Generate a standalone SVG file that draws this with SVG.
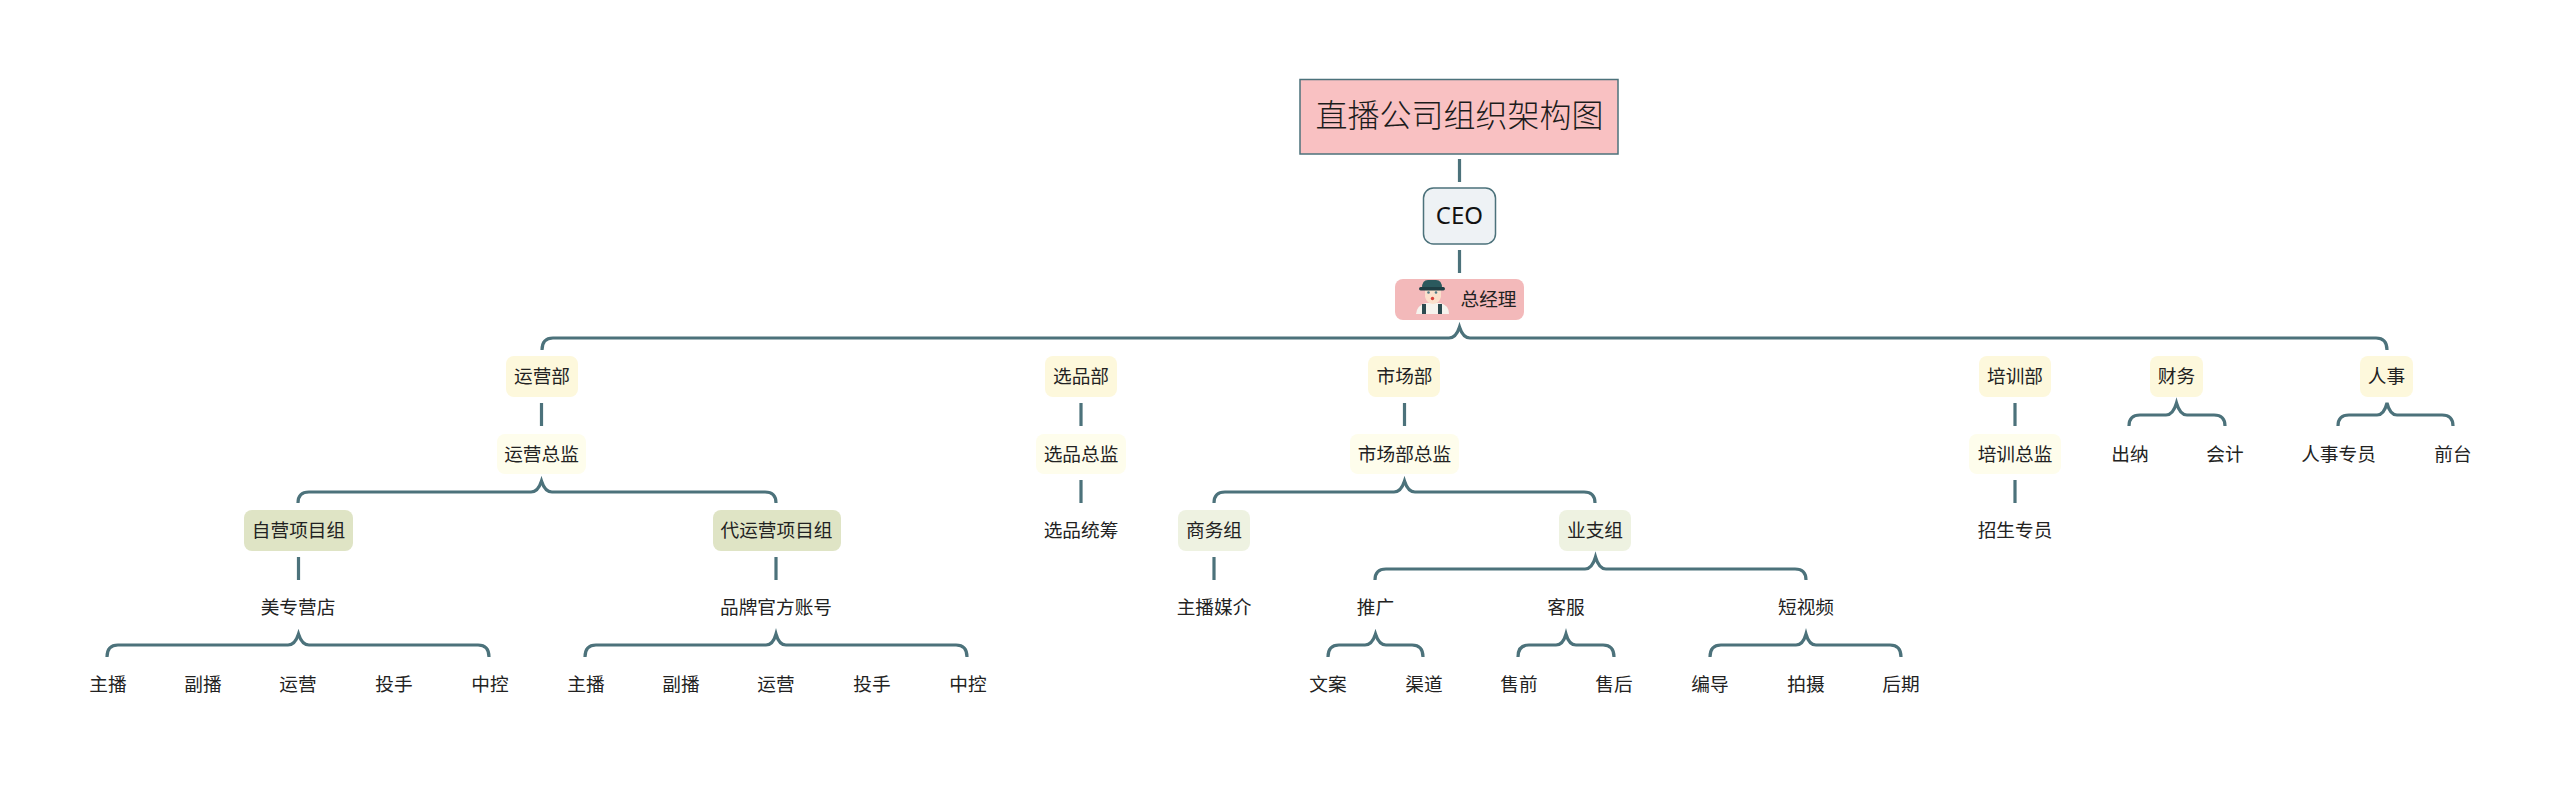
<svg xmlns="http://www.w3.org/2000/svg" width="2560" height="785" viewBox="0 0 2560 785">
<style>
text{font-family:"Noto Sans","Noto Sans CJK SC",sans-serif;font-size:18.67px;fill:#222;text-anchor:middle}
.c{fill:none;stroke:#4c727b;stroke-width:3.200;stroke-linecap:butt}
.y{fill:#fdf8dc}.l{fill:#fefdec}.g{fill:#dfe4c5}.p{fill:#eef2e1}
</style>
<rect width="2560" height="785" fill="#fff"/>
<g id="connectors" class="c">
<path d="M1459.500 159V182M1459.500 250V273M541.500 403V426M1081 403V426M1081 480V503M1404.500 403V426M2015 403V426M2015 480V503M298.500 557V580M776 557V580M1214 557V580"/>
<path d="M542 350Q542 338 553 338H1449Q1456 338 1459.500 327Q1463 338 1470 338H2376Q2387 338 2387 350"/>
<path d="M298 503Q298 492 309 492H531Q538 492 541.500 481Q545 492 552 492H765Q776 492 776 503"/>
<path d="M107 657Q107 645 118 645H288Q295 645 298.500 634Q302 645 309 645H478Q489 645 489 657"/>
<path d="M585 657Q585 645 596 645H766Q773 645 776 634Q779 645 786 645H956Q967 645 967 657"/>
<path d="M1214 503Q1214 492 1225 492H1394Q1401 492 1404.500 481Q1408 492 1415 492H1584Q1595 492 1595 503"/>
<path d="M1375 580Q1375 569 1386 569H1585Q1592 569 1595.500 557Q1599 569 1606 569H1795Q1806 569 1806 580"/>
<path d="M1328 657Q1328 645 1339 645H1365Q1372 645 1375.500 634Q1379 645 1386 645H1412Q1423 645 1423 657"/>
<path d="M1518 657Q1518 645 1529 645H1556Q1563 645 1566 634Q1569 645 1576 645H1603Q1614 645 1614 657"/>
<path d="M1710 657Q1710 645 1721 645H1796Q1803 645 1806 634Q1809 645 1816 645H1890Q1901 645 1901 657"/>
<path d="M2129 426Q2129 415 2140 415H2166Q2173 415 2176.500 403Q2180 415 2187 415H2214Q2225 415 2225 426"/>
<path d="M2338 426Q2338 415 2349 415H2377Q2384 415 2387 403Q2390 415 2397 415H2442Q2453 415 2453 426"/>
</g>
<g id="title"><rect x="1300" y="79.500" width="318" height="74.500" fill="#f9c1c2" stroke="#4c727b" stroke-width="1.500"/><text x="1459.500" y="127" style="font-size:32px;font-weight:300;fill:#1c1c1c">直播公司组织架构图</text></g>
<g id="ceo"><rect x="1423.500" y="188" width="72" height="56" rx="10" fill="#eef2f5" stroke="#4c727b" stroke-width="1.500"/><text x="1459.500" y="223.500" style="font-size:24px;fill:#111">CEO</text></g>
<g id="gm"><rect x="1395" y="279" width="129" height="41" rx="8" fill="#f3b9ba"/>
<path d="M1416 314Q1417 305 1426 303H1440Q1449 305 1449 314Z" fill="#f6f3ee"/>
<rect x="1422" y="304" width="4" height="10" fill="#2c4a50"/><rect x="1438" y="304" width="4" height="10" fill="#2c4a50"/>
<path d="M1425 289H1441V297Q1439 304 1433 304Q1427 304 1425 297Z" fill="#fbe0cc"/>
<circle cx="1428.500" cy="292.500" r="1.300" fill="#4f7a86"/><circle cx="1436" cy="292.500" r="1.300" fill="#4f7a86"/>
<circle cx="1432.500" cy="298.500" r="1.700" fill="#d8403a"/>
<path d="M1422 288Q1422 280 1428 280H1436Q1442 280 1442 288Z" fill="#2b5a5e"/><rect x="1419" y="287" width="26" height="3.500" rx="1.700" fill="#1f3f44"/>
<text x="1488.500" y="305.500">总经理</text></g>
<g id="n1"><rect class="y" x="506" y="356" width="72" height="41" rx="8"/><text x="542" y="383">运营部</text></g>
<g id="n2"><rect class="l" x="497" y="434" width="89" height="40" rx="8"/><text x="541.500" y="460.500">运营总监</text></g>
<g id="n3"><rect class="g" x="244" y="510" width="109" height="41" rx="8"/><text x="298.500" y="537">自营项目组</text></g>
<g id="n4"><rect class="g" x="713" y="510" width="128" height="41" rx="8"/><text x="776.500" y="537">代运营项目组</text></g>
<g id="n5"><text x="298" y="614">美专营店</text></g>
<g id="n6"><text x="776" y="614">品牌官方账号</text></g>
<g id="a1"><text x="108" y="691">主播</text></g><g id="a2"><text x="203" y="691">副播</text></g><g id="a3"><text x="298" y="691">运营</text></g><g id="a4"><text x="394" y="691">投手</text></g><g id="a5"><text x="490" y="691">中控</text></g>
<g id="b1"><text x="586" y="691">主播</text></g><g id="b2"><text x="681" y="691">副播</text></g><g id="b3"><text x="776" y="691">运营</text></g><g id="b4"><text x="872" y="691">投手</text></g><g id="b5"><text x="968" y="691">中控</text></g>
<g id="s1"><rect class="y" x="1045" y="356" width="72" height="41" rx="8"/><text x="1081" y="383">选品部</text></g>
<g id="s2"><rect class="l" x="1036" y="434" width="90" height="40" rx="8"/><text x="1081" y="460.500">选品总监</text></g>
<g id="s3"><text x="1081" y="537">选品统筹</text></g>
<g id="m1"><rect class="y" x="1368" y="356" width="72" height="41" rx="8"/><text x="1404.500" y="383">市场部</text></g>
<g id="m2"><rect class="l" x="1350" y="434" width="109" height="40" rx="8"/><text x="1404.500" y="460.500">市场部总监</text></g>
<g id="m3"><rect class="p" x="1178" y="510" width="72" height="41" rx="8"/><text x="1214" y="537">商务组</text></g>
<g id="m4"><rect class="p" x="1559" y="510" width="72" height="41" rx="8"/><text x="1595" y="537">业支组</text></g>
<g id="m5"><text x="1214" y="614">主播媒介</text></g>
<g id="m6"><text x="1375.500" y="614">推广</text></g><g id="m7"><text x="1566" y="614">客服</text></g><g id="m8"><text x="1806" y="614">短视频</text></g>
<g id="m9"><text x="1328" y="691">文案</text></g><g id="m10"><text x="1424" y="691">渠道</text></g><g id="m11"><text x="1519" y="691">售前</text></g><g id="m12"><text x="1614" y="691">售后</text></g><g id="m13"><text x="1710" y="691">编导</text></g><g id="m14"><text x="1806" y="691">拍摄</text></g><g id="m15"><text x="1901" y="691">后期</text></g>
<g id="t1"><rect class="y" x="1979" y="356" width="72" height="41" rx="8"/><text x="2015" y="383">培训部</text></g>
<g id="t2"><rect class="l" x="1969" y="434" width="92" height="40" rx="8"/><text x="2015" y="460.500">培训总监</text></g>
<g id="t3"><text x="2015" y="537">招生专员</text></g>
<g id="f1"><rect class="y" x="2150" y="356" width="53" height="41" rx="8"/><text x="2176.500" y="383">财务</text></g>
<g id="f2"><text x="2130" y="460.500">出纳</text></g><g id="f3"><text x="2225" y="460.500">会计</text></g>
<g id="h1"><rect class="y" x="2360" y="356" width="53" height="41" rx="8"/><text x="2386.500" y="383">人事</text></g>
<g id="h2"><text x="2338.500" y="460.500">人事专员</text></g><g id="h3"><text x="2453" y="460.500">前台</text></g>
</svg>
